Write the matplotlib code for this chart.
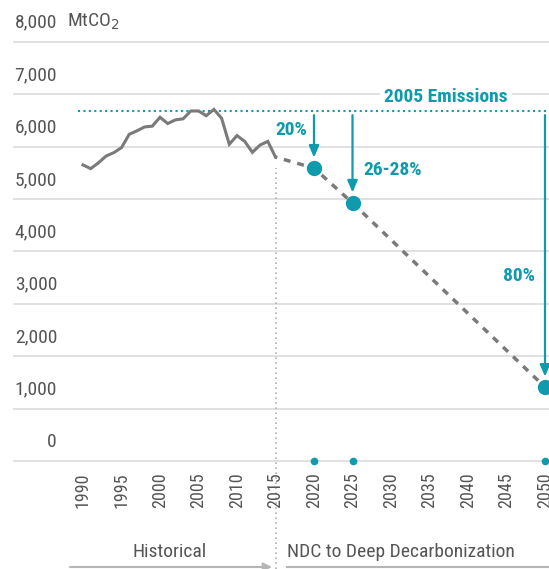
import matplotlib
matplotlib.use("Agg")
import matplotlib.pyplot as plt
from matplotlib import font_manager

# ---- data ----
hist_years = list(range(1990, 2016))
hist_values = [5650, 5580, 5690, 5820, 5885, 5980, 6235, 6300, 6375, 6390,
               6560, 6440, 6510, 6530, 6680, 6680, 6590, 6710, 6540, 6045,
               6210, 6100, 5890, 6030, 6100, 5800]
target_years = [2015, 2020, 2025, 2050]
target_values = [5800, 5590, 4925, 1410]
target_labels = ["20%", "26-28%", "80%"]
emissions_2005 = 6680
y_ticks = [0, 1000, 2000, 3000, 4000, 5000, 6000, 7000, 8000]
y_tick_labels = ["0", "1,000", "2,000", "3,000", "4,000", "5,000", "6,000", "7,000", "8,000"]
x_ticks = list(range(1990, 2051, 5))

TEAL = "#0f9aad"
GRAY = "#7a7a7a"
TXT = "#555555"
GRID = "#dcdcdc"

names = {f.name for f in font_manager.fontManager.ttflist}
cands = ["Roboto Condensed", "Liberation Sans Narrow", "Open Sans Condensed", "Noto Sans", "DejaVu Sans"]
fam = [c for c in cands if c in names] or ["DejaVu Sans"]
plt.rcParams['font.family'] = fam

W, H = 549, 569
fig = plt.figure(figsize=(W / 100, H / 100), dpi=100)
ax = fig.add_axes([0, 0, 1, 1])

# pixel mapping
px_per_year = 7.7
x0_px = 83
px_per_1000 = 52.4
y0_px = 461
xmin = 1990 - x0_px / px_per_year
xmax = 1990 + (W - x0_px) / px_per_year
ymax = (y0_px) / px_per_1000 * 1000
ymin = (y0_px - H) / px_per_1000 * 1000
ax.set_xlim(xmin, xmax)
ax.set_ylim(ymin, ymax)
ax.axis("off")

def xpx(p):
    return xmin + p / px_per_year

def ypx(p):
    return (y0_px - p) / px_per_1000 * 1000

# gridlines
for v, lab in zip(y_ticks, y_tick_labels):
    ax.plot([xpx(13), xmax], [v, v], color=GRID, lw=1.2, zorder=1, solid_capstyle="butt")
    ax.text(xpx(57), v + 190, lab, ha="right", va="bottom", fontsize=14, color=TXT)
ax.text(xpx(67), 8000 + 190, "MtCO$_2$", ha="left", va="bottom", fontsize=14, color=TXT)

# 2005 emissions line
ax.plot([xpx(78), xmax], [emissions_2005, emissions_2005], color=TEAL, lw=1.5,
        linestyle=(0, (1, 1.6)), zorder=3)
ax.text(xpx(446), ypx(97), "2005 Emissions", ha="center", va="center", fontsize=14,
        color=TEAL, fontweight="bold", zorder=4,
        bbox=dict(facecolor="white", edgecolor="none", pad=3))

# 2015 divider
ax.plot([2015, 2015], [ypx(569), hist_values[-1] - 200], color="#b0b0b0", lw=1.2,
        linestyle=(0, (1, 2)), zorder=2, clip_on=False)

# historical line
ax.plot(hist_years, hist_values, color=GRAY, lw=2.2, zorder=5, solid_joinstyle="miter")

# projection dashed
ax.plot(target_years, target_values, color=GRAY, lw=2.5, linestyle=(1.5, (2, 2)), zorder=5)
ax.plot(target_years[1:], target_values[1:], "o", color=TEAL, ms=10, zorder=6)
ax.plot(target_years[1:], [0] * 3, "o", color=TEAL, ms=4.5, zorder=6, clip_on=False)

# arrows
label_pos = [(-3.0, ypx(130), "center"), (1.4, ypx(170), "left"), (-3.4, ypx(276), "center")]
for yr, val, lab, (dx, ly, ha) in zip(target_years[1:], target_values[1:], target_labels, label_pos):
    ax.annotate("", xy=(yr, val + 200), xytext=(yr, emissions_2005 - 80),
                arrowprops=dict(arrowstyle="-|>,head_length=0.7,head_width=0.3", color=TEAL, lw=1.6,
                                shrinkA=0, shrinkB=0), zorder=6)
    ax.text(yr + dx, ly, lab, ha=ha, va="center", fontsize=14, color=TEAL, fontweight="bold")

# x tick labels
for yr in x_ticks:
    ax.text(yr, ypx(472), str(yr), rotation=90, ha="center", va="top", fontsize=13, color=TXT,
            clip_on=False)

# bottom labels
ax.text(xpx(170), ypx(552), "Historical", ha="center", va="center", fontsize=14, color=TXT)
ax.text(xpx(287), ypx(552), "NDC to Deep Decarbonization", ha="left", va="center", fontsize=14, color=TXT)
ax.annotate("", xy=(xpx(272), ypx(567)), xytext=(xpx(70), ypx(567)),
            arrowprops=dict(arrowstyle="-|>,head_length=0.5,head_width=0.25", color="#b5b5b5", lw=1.5,
                            shrinkA=0, shrinkB=0))
ax.plot([xpx(287), xmax], [ypx(567), ypx(567)], color="#b5b5b5", lw=1.5, clip_on=False)

fig.savefig("out.png", dpi=100)
print(fam)
